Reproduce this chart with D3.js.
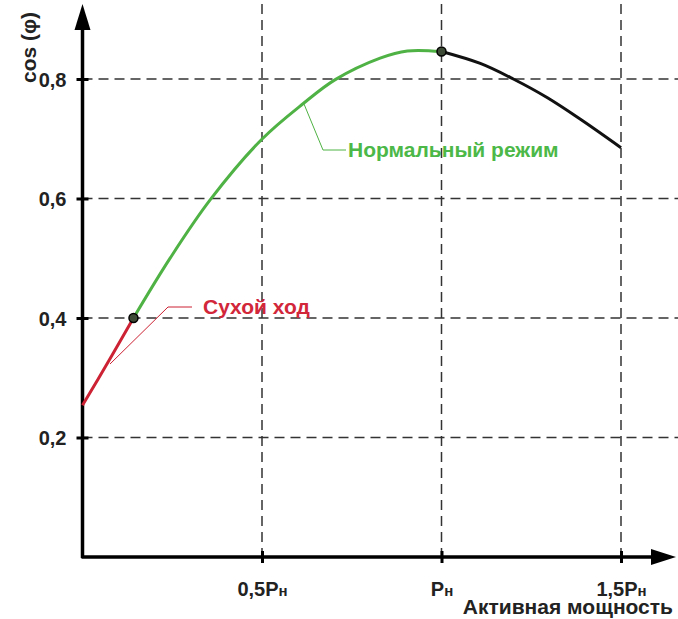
<!DOCTYPE html>
<html>
<head>
<meta charset="utf-8">
<script src="https://cdn.jsdelivr.net/npm/d3@7"></script>
<style>
  body { margin: 0; background: #fff; }
  text { font-family: "Liberation Sans", Arial, sans-serif; font-weight: bold; }
</style>
</head>
<body>
<div class="main"></div>
<script>
// Curve pieces (x in Pн, y = cos φ)
const dryX = [0, 0.075, 0.142];
const dryY = [0.254, 0.33, 0.4];
const normX = [0.142, 0.245, 0.356, 0.501, 0.615, 0.704, 0.829, 0.905, 1.0];
const normY = [0.4, 0.501, 0.598, 0.700, 0.759, 0.799, 0.835, 0.847, 0.846];
const overX = [1.0, 1.108, 1.2, 1.294, 1.386, 1.5];
const overY = [0.846, 0.826, 0.800, 0.769, 0.733, 0.685];

const yTicks = [0.2, 0.4, 0.6, 0.8];
const xTicks = [0.5, 1, 1.5];
const xTickLabels = ["0,5", "", "1,5"];

let width = 678, height = 619;

let svg = d3.select("div.main").append("svg")
  .attr("width", width)
  .attr("height", height);

let x = d3.scaleLinear().domain([0, 1.5]).range([82.5, 621]);
let y = d3.scaleLinear().domain([0, 0.8]).range([557, 79]);

// dashed grid
svg.selectAll(".hgrid").data(yTicks).enter().append("line")
  .attr("x1", x(0)).attr("x2", width)
  .attr("y1", d => y(d)).attr("y2", d => y(d))
  .attr("stroke", "#333").attr("stroke-width", 1.5)
  .attr("stroke-dasharray", "10,6");

svg.selectAll(".vgrid").data(xTicks).enter().append("line")
  .attr("x1", d => x(d)).attr("x2", d => x(d))
  .attr("y1", 4).attr("y2", y(0))
  .attr("stroke", "#333").attr("stroke-width", 1.5)
  .attr("stroke-dasharray", "10,6");

// axes with small crossing ticks
let fmt = d3.formatLocale({decimal: ",", thousands: " ", grouping: [3], currency: ["", ""]}).format(".1f");

let yAxis = svg.append("g")
  .attr("transform", "translate(" + (x(0) + 6) + ",0)")
  .call(d3.axisLeft(y).tickValues(yTicks).tickSizeInner(12).tickSizeOuter(0).tickPadding(10).tickFormat(fmt));

let xAxis = svg.append("g")
  .attr("transform", "translate(0," + (y(0) - 6) + ")")
  .call(d3.axisBottom(x).tickValues(xTicks).tickSizeInner(12).tickSizeOuter(0).tickPadding(15).tickFormat((d, i) => xTickLabels[i]));

svg.selectAll(".domain").remove();
svg.selectAll(".tick line").attr("stroke", "#000").attr("stroke-width", 3);
yAxis.selectAll(".tick text")
  .attr("font-size", 20).attr("fill", "#222").attr("dy", "0.36em");
xAxis.selectAll(".tick text")
  .attr("font-size", 20).attr("fill", "#222").attr("dy", "0.9em")
  .append("tspan").text("P")
  .append("tspan").attr("font-size", 15).text("н");

// axis lines + arrowheads
svg.append("line")
  .attr("x1", x(0)).attr("x2", x(0))
  .attr("y1", y(0) + 1).attr("y2", 22)
  .attr("stroke", "#000").attr("stroke-width", 3.5);
svg.append("path")
  .attr("d", "M" + x(0) + ",4 L" + (x(0) - 8) + ",30 L" + (x(0) + 8) + ",30 Z")
  .attr("fill", "#000");

svg.append("line")
  .attr("x1", x(0) - 1).attr("x2", 660)
  .attr("y1", y(0)).attr("y2", y(0))
  .attr("stroke", "#000").attr("stroke-width", 3.5);
svg.append("path")
  .attr("d", "M676," + y(0) + " L651," + (y(0) - 8) + " L651," + (y(0) + 8) + " Z")
  .attr("fill", "#000");

// curves
let line = d3.line()
  .x(d => x(d[0]))
  .y(d => y(d[1]))
  .curve(d3.curveCatmullRom.alpha(0.5));

function draw(xs, ys, color) {
  svg.append("path")
    .datum(d3.zip(xs, ys))
    .attr("d", line)
    .attr("fill", "none")
    .attr("stroke", color)
    .attr("stroke-width", 3);
}
draw(overX, overY, "#111");
draw(normX, normY, "#4fb244");
draw(dryX, dryY, "#cc2233");

// points where the regimes meet
svg.selectAll(".joint").data([[normX[0], normY[0]], [overX[0], overY[0]]]).enter().append("circle")
  .attr("cx", d => x(d[0]))
  .attr("cy", d => y(d[1]))
  .attr("r", 4.5)
  .attr("fill", "#3d4a35")
  .attr("stroke", "#000")
  .attr("stroke-width", 1.5);

// leader lines and labels
svg.append("path")
  .attr("d", "M110,364 L168,307 L192,307")
  .attr("fill", "none").attr("stroke", "#cc2233").attr("stroke-width", 1);
svg.append("text")
  .attr("x", 203).attr("y", 314)
  .attr("font-size", 21).attr("fill", "#d2263a")
  .text("Сухой ход");

svg.append("path")
  .attr("d", "M304,104 L323,150 L346,150")
  .attr("fill", "none").attr("stroke", "#4fb244").attr("stroke-width", 1);
svg.append("text")
  .attr("x", 348).attr("y", 157)
  .attr("font-size", 21).attr("fill", "#4cb848")
  .text("Нормальный режим");

// axis titles
svg.append("text")
  .attr("transform", "translate(36,83)rotate(-90)")
  .attr("font-size", 21).attr("fill", "#222")
  .text("cos (φ)");

svg.append("text")
  .attr("x", 673).attr("y", 614)
  .attr("text-anchor", "end")
  .attr("font-size", 21).attr("fill", "#222")
  .text("Активная мощность");
</script>
</body>
</html>
